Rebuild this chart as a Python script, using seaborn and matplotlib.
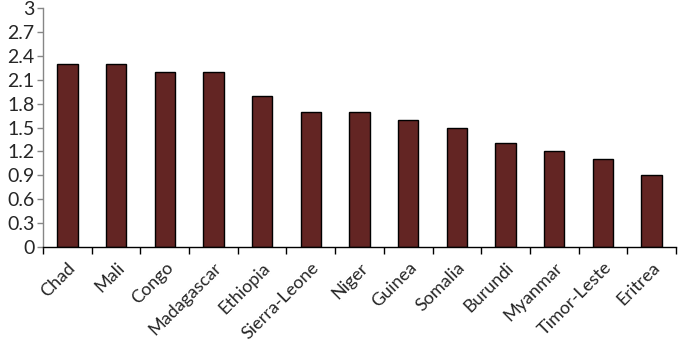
import numpy as np
import pandas as pd
import matplotlib
matplotlib.use("Agg")
import matplotlib.pyplot as plt
import seaborn as sns

countries = ["Chad", "Mali", "Congo", "Madagascar", "Ethiopia", "Sierra-Leone",
             "Niger", "Guinea", "Somalia", "Burundi", "Myanmar", "Timor-Leste", "Eritrea"]
values = [2.3, 2.3, 2.2, 2.2, 1.9, 1.7, 1.7, 1.6, 1.5, 1.3, 1.2, 1.1, 0.9]
y_ticks = [0, 0.3, 0.6, 0.9, 1.2, 1.5, 1.8, 2.1, 2.4, 2.7, 3]
y_tick_labels = ["0", "0.3", "0.6", "0.9", "1.2", "1.5", "1.8", "2.1", "2.4", "2.7", "3"]

df = pd.DataFrame({"country": countries, "value": values})

sns.set_style("white")
plt.rcParams["font.family"] = ["Lato", "DejaVu Sans"]

fig = plt.figure(figsize=(6.78, 3.49), dpi=100)
ax = fig.add_axes([43 / 678, 1 - 247 / 349, (676 - 43) / 678, (247 - 8) / 349])

sns.barplot(data=df, x="country", y="value", color="#632523", saturation=1,
            width=0.42, edgecolor="black", linewidth=1, ax=ax)

ax.set_xlim(-0.5, len(countries) - 0.5)
ax.set_ylim(0, 3)
ax.set_yticks(y_ticks)
ax.set_yticklabels(y_tick_labels, fontsize=14)
ax.set_xlabel("")
ax.set_ylabel("")

# category labels centred, ticks on the boundaries
ax.set_xticks(range(len(countries)))
ax.set_xticklabels(countries, rotation=45, ha="right", rotation_mode="anchor", fontsize=13)
ax.set_xticks(np.arange(-0.5, len(countries)), minor=True)
ax.tick_params(axis="x", which="major", length=0, pad=9)
ax.tick_params(axis="x", which="minor", length=5, width=1, color="black", direction="out", bottom=True)
ax.tick_params(axis="y", length=4, width=1, color="#868686", direction="out", left=True, pad=2)

for side in ["top", "right"]:
    ax.spines[side].set_visible(False)
ax.spines["left"].set_color("#868686")
ax.spines["bottom"].set_color("black")
ax.spines["left"].set_linewidth(1)
ax.spines["bottom"].set_linewidth(1)

fig.savefig("out.png", dpi=100)
